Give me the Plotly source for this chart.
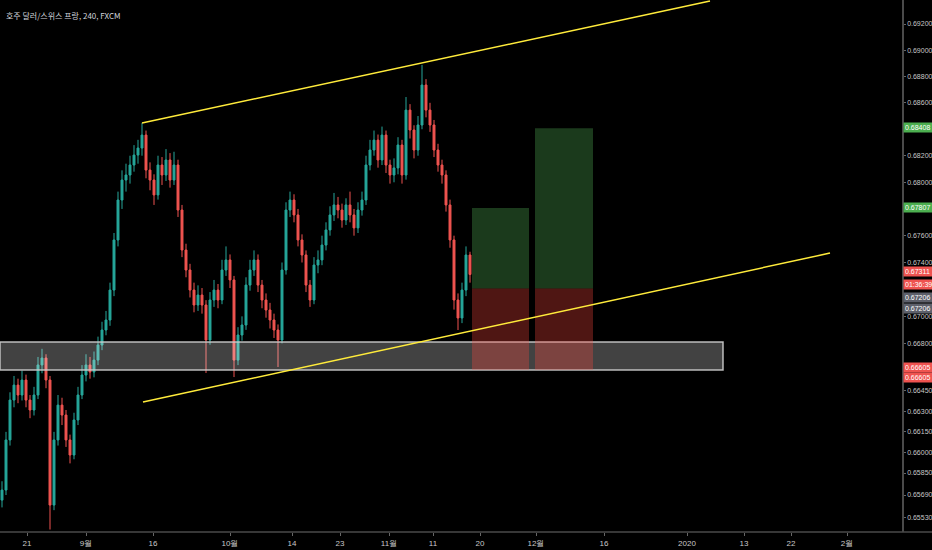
import numpy as np
import plotly.graph_objects as go

# 4h candles, AUD/CHF (FXCM)
opens = [0.65653, 0.65726, 0.66091, 0.66383, 0.66493, 0.66420, 0.66530, 0.66383, 0.66310, 0.66420,
         0.66641, 0.66692, 0.66530, 0.65617, 0.66091, 0.66346, 0.66273, 0.66091, 0.65981, 0.66237,
         0.66420, 0.66567, 0.66641, 0.66589, 0.66677, 0.66788, 0.66899, 0.66973, 0.67195, 0.67568,
         0.67867, 0.68017, 0.68055, 0.68130, 0.68205, 0.68258, 0.68356, 0.68092, 0.68017, 0.67905,
         0.68130, 0.68055, 0.68168, 0.68017, 0.68130, 0.67792, 0.67493, 0.67344, 0.67195, 0.67084,
         0.67158, 0.67084, 0.66825, 0.67121, 0.67195, 0.67121, 0.67344, 0.67419, 0.67270, 0.66677,
         0.66862, 0.66936, 0.67232, 0.67344, 0.67419, 0.67232, 0.67121, 0.67047, 0.66973, 0.66899,
         0.66825, 0.67344, 0.67792, 0.67867, 0.67755, 0.67568, 0.67456, 0.67232, 0.67121, 0.67381,
         0.67419, 0.67530, 0.67643, 0.67755, 0.67830, 0.67792, 0.67717, 0.67830, 0.67755, 0.67658,
         0.67792, 0.67867, 0.68130, 0.68243, 0.68318, 0.68168, 0.68356, 0.68130, 0.68055, 0.68108,
         0.68281, 0.68055, 0.68545, 0.68394, 0.68243, 0.68432, 0.68735, 0.68545, 0.68432, 0.68243,
         0.68130, 0.68055, 0.67830, 0.67568, 0.67121, 0.66988, 0.67195, 0.67456]
closes = [0.65726, 0.66091, 0.66383, 0.66493, 0.66420, 0.66530, 0.66383, 0.66310, 0.66420, 0.66641,
          0.66692, 0.66530, 0.65617, 0.66091, 0.66346, 0.66273, 0.66091, 0.65981, 0.66237, 0.66420,
          0.66567, 0.66641, 0.66589, 0.66677, 0.66788, 0.66899, 0.66973, 0.67195, 0.67568, 0.67867,
          0.68017, 0.68055, 0.68130, 0.68205, 0.68258, 0.68356, 0.68092, 0.68017, 0.67905, 0.68130,
          0.68055, 0.68168, 0.68017, 0.68130, 0.67792, 0.67493, 0.67344, 0.67195, 0.67084, 0.67158,
          0.67084, 0.66825, 0.67121, 0.67195, 0.67121, 0.67344, 0.67419, 0.67270, 0.66677, 0.66862,
          0.66936, 0.67232, 0.67344, 0.67419, 0.67232, 0.67121, 0.67047, 0.66973, 0.66899, 0.66825,
          0.67344, 0.67792, 0.67867, 0.67755, 0.67568, 0.67456, 0.67232, 0.67121, 0.67381, 0.67419,
          0.67530, 0.67643, 0.67755, 0.67830, 0.67792, 0.67717, 0.67830, 0.67755, 0.67658, 0.67792,
          0.67867, 0.68130, 0.68243, 0.68318, 0.68168, 0.68356, 0.68130, 0.68055, 0.68108, 0.68281,
          0.68055, 0.68545, 0.68394, 0.68243, 0.68432, 0.68735, 0.68545, 0.68432, 0.68243, 0.68130,
          0.68055, 0.67830, 0.67568, 0.67121, 0.66988, 0.67195, 0.67456, 0.67311]
highs = [0.65790, 0.66150, 0.66440, 0.66560, 0.66540, 0.66600, 0.66570, 0.66420, 0.66480, 0.66700,
         0.66760, 0.66720, 0.66560, 0.66150, 0.66420, 0.66400, 0.66310, 0.66130, 0.66290, 0.66480,
         0.66640, 0.66720, 0.66700, 0.66740, 0.66850, 0.66960, 0.67040, 0.67250, 0.67620, 0.67930,
         0.68090, 0.68140, 0.68200, 0.68280, 0.68320, 0.68447, 0.68390, 0.68150, 0.68060, 0.68200,
         0.68190, 0.68250, 0.68220, 0.68230, 0.68170, 0.67830, 0.67540, 0.67390, 0.67250, 0.67230,
         0.67210, 0.67120, 0.67180, 0.67270, 0.67240, 0.67420, 0.67520, 0.67460, 0.67300, 0.66920,
         0.67000, 0.67290, 0.67420, 0.67490, 0.67460, 0.67270, 0.67170, 0.67100, 0.67020, 0.66940,
         0.67400, 0.67850, 0.67930, 0.67910, 0.67800, 0.67610, 0.67490, 0.67270, 0.67440, 0.67490,
         0.67600, 0.67700, 0.67820, 0.67920, 0.67890, 0.67840, 0.67880, 0.67930, 0.67800, 0.67850,
         0.67930, 0.68200, 0.68320, 0.68390, 0.68360, 0.68420, 0.68390, 0.68170, 0.68180, 0.68340,
         0.68320, 0.68644, 0.68590, 0.68430, 0.68500, 0.68888, 0.68780, 0.68600, 0.68470, 0.68290,
         0.68170, 0.68090, 0.67870, 0.67600, 0.67170, 0.67250, 0.67520, 0.67480]
lows = [0.65600, 0.65690, 0.66050, 0.66330, 0.66360, 0.66380, 0.66330, 0.66250, 0.66270, 0.66390,
        0.66580, 0.66470, 0.65440, 0.65580, 0.66050, 0.66200, 0.66040, 0.65920, 0.65950, 0.66200,
        0.66390, 0.66520, 0.66540, 0.66550, 0.66640, 0.66750, 0.66860, 0.66930, 0.67150, 0.67520,
        0.67800, 0.67930, 0.67990, 0.68080, 0.68140, 0.68200, 0.68030, 0.67940, 0.67830, 0.67870,
        0.67980, 0.68010, 0.67960, 0.67980, 0.67740, 0.67440, 0.67290, 0.67140, 0.67030, 0.67040,
        0.67020, 0.66582, 0.66790, 0.67070, 0.67060, 0.67090, 0.67300, 0.67210, 0.66552, 0.66640,
        0.66820, 0.66900, 0.67190, 0.67300, 0.67180, 0.67060, 0.66990, 0.66910, 0.66840, 0.66626,
        0.66800, 0.67310, 0.67740, 0.67700, 0.67520, 0.67400, 0.67180, 0.67070, 0.67090, 0.67320,
        0.67380, 0.67490, 0.67600, 0.67710, 0.67730, 0.67660, 0.67680, 0.67700, 0.67600, 0.67620,
        0.67750, 0.67830, 0.68090, 0.68200, 0.68110, 0.68130, 0.68070, 0.67990, 0.68000, 0.68060,
        0.67990, 0.68020, 0.68330, 0.68180, 0.68200, 0.68400, 0.68490, 0.68380, 0.68190, 0.68080,
        0.67990, 0.67780, 0.67510, 0.67050, 0.66899, 0.66950, 0.67150, 0.67250]

# time axis labels (bar index, text)
date_ticks = [6.25, 21, 37.75, 57, 72.5, 84.5, 96.75, 107.75, 119.5, 133.5, 150.5, 171.25, 185.5, 197.25, 211.25]
date_labels = ["21", "9월", "16", "10월", "14", "23", "11월", "11", "20", "12월", "16", "2020", "13", "22", "2월"]

price_ticks = [0.692, 0.690, 0.688, 0.686, 0.682, 0.680, 0.676, 0.674, 0.670, 0.668,
               0.6645, 0.663, 0.6615, 0.660, 0.6585, 0.6569, 0.6553]
price_labels = ["%.5f" % v for v in price_ticks]

# drawings: trend lines, support zone, long positions
upper_line_x = [35, 177]
upper_line_y = [0.68447, 0.69376]
lower_line_x = [35.25, 207]
lower_line_y = [0.66368, 0.67470]
zone_x = [-0.5, 180.25]
zone_y = [0.66604, 0.66810]
entry = 0.67206
stop = 0.66605
targets = [0.67807, 0.68408]
pos_x = [[117.5, 131.75], [133.25, 147.75]]

UP = "#26a69a"
DOWN = "#ef5350"
AXIS_FONT = "Liberation Sans"

fig = go.Figure()
fig.add_trace(go.Candlestick(
    x=list(range(len(closes))), open=opens, high=highs, low=lows, close=closes,
    increasing=dict(line=dict(color=UP, width=1), fillcolor=UP),
    decreasing=dict(line=dict(color=DOWN, width=1), fillcolor=DOWN),
    whiskerwidth=0, hoverinfo="skip", showlegend=False,
))


def box(xs, ys, fill, line_color=None, lw=0):
    fig.add_trace(go.Scatter(
        x=[xs[0], xs[1], xs[1], xs[0], xs[0]], y=[ys[0], ys[0], ys[1], ys[1], ys[0]],
        mode="lines", fill="toself", fillcolor=fill,
        line=dict(color=line_color or "rgba(0,0,0,0)", width=lw),
        hoverinfo="skip", showlegend=False,
    ))


box(zone_x, zone_y, "rgba(255,255,255,0.26)", "rgba(205,205,205,0.9)", 1.5)
for (x0, x1), tgt in zip(pos_x, targets):
    box([x0, x1], [entry, tgt], "rgba(75,160,78,0.36)")
    box([x0, x1], [stop, entry], "rgba(255,70,60,0.31)")

for xs, ys in [(upper_line_x, upper_line_y), (lower_line_x, lower_line_y)]:
    fig.add_trace(go.Scatter(x=xs, y=ys, mode="lines", line=dict(color="#ffeb3b", width=1.5),
                             hoverinfo="skip", showlegend=False))

# price labels on the right scale
tags = [
    (0.68408, "0.68408", "#4caf50", 1),
    (0.67807, "0.67807", "#4caf50", 1),
    (0.67311, "0.67311", DOWN, 3),
    (0.67311, "01:36:39", DOWN, -10),
    (0.67206, "0.67206", "#5d606b", -9),
    (0.67206, "0.67206", "#5d606b", -20),
    (0.66605, "0.66605", DOWN, 2),
    (0.66605, "0.66605", DOWN, -8),
]
for val, txt, col, shift in tags:
    fig.add_annotation(x=1, xref="paper", xanchor="left", xshift=1, y=np.log10(val), yref="y",
                       yshift=shift, text=txt, showarrow=False, bgcolor=col,
                       font=dict(color="white", size=7, family=AXIS_FONT),
                       borderpad=1, width=27, align="left")

fig.add_annotation(x=0.004, y=0.985, xref="paper", yref="paper", xanchor="left", yanchor="top",
                   text="호주 달러/스위스 프랑, 240, FXCM", showarrow=False,
                   font=dict(color="#d1d4dc", size=8, family="Noto Sans CJK KR"))

fig.add_shape(type="line", xref="paper", yref="paper", x0=0, x1=932 / 902, y0=0, y1=0,
              line=dict(color="#4a4a4a", width=1.5))

fig.update_layout(
    width=932, height=550,
    margin=dict(l=0, r=30, t=0, b=18),
    paper_bgcolor="#000000", plot_bgcolor="#000000",
    font=dict(family=AXIS_FONT, size=7, color="#c8c8c8"),
    xaxis=dict(range=[-0.5, 225], rangeslider=dict(visible=False), showgrid=False, zeroline=False,
               tickmode="array", tickvals=date_ticks, ticktext=date_labels, automargin=False,
               ticks="outside", ticklen=3, tickcolor="#666", showline=False,
               tickfont=dict(size=8, color="#c8c8c8")),
    yaxis=dict(type="log", side="right", range=[np.log10(0.65422), np.log10(0.69384)],
               showgrid=False, zeroline=False, tickmode="array", tickvals=price_ticks,
               ticktext=price_labels, ticks="outside", ticklen=2, tickcolor="#666",
               showline=True, linecolor="#4a4a4a", linewidth=1.5, automargin=False,
               tickfont=dict(size=7, color="#c8c8c8")),
)

# the page's default body margin would shift the figure by 8px
fig.write_html("out.html", config={"displayModeBar": False},
               post_script="document.body.style.margin='0';"
                           "document.body.style.background='#000';")
